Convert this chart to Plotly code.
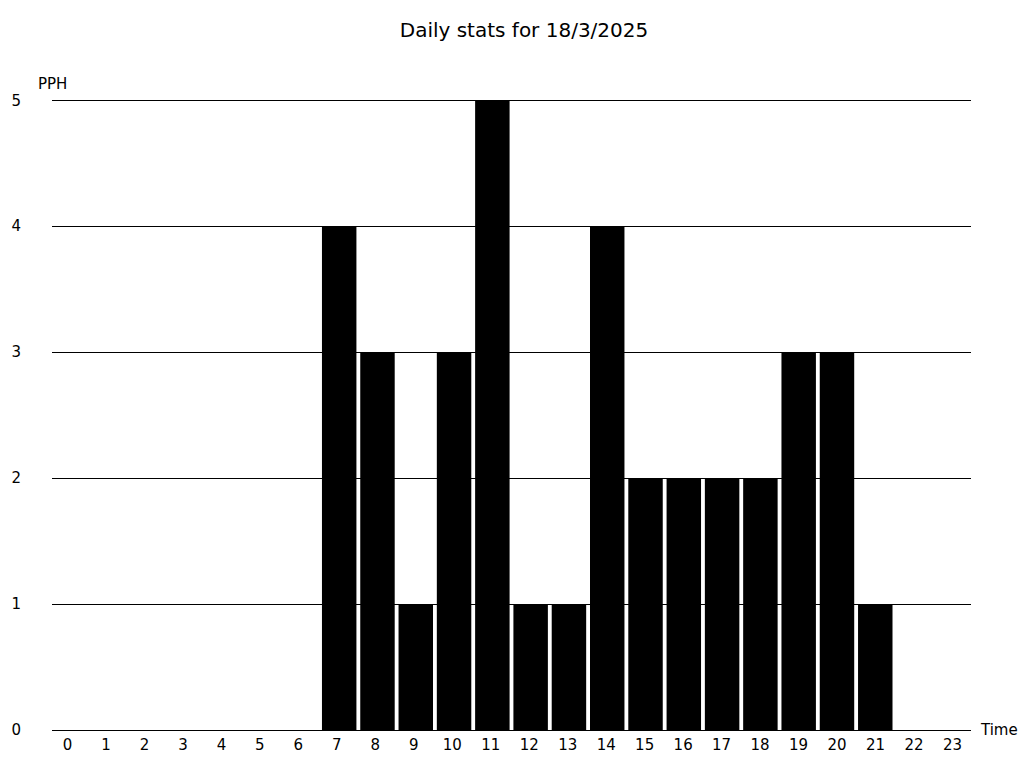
import plotly.graph_objects as go

hours = [str(h) for h in range(24)]
pph = [0, 0, 0, 0, 0, 0, 0, 4, 3, 1, 3, 5, 1, 1, 4, 2, 2, 2, 2, 3, 3, 1, 0, 0]
y_ticks = [0, 1, 2, 3, 4, 5]
hour_positions = list(range(24))
title_text = "Daily stats for 18/3/2025"

fig = go.Figure()
fig.add_trace(go.Bar(x=hour_positions, y=pph, marker=dict(color="black", line=dict(width=0))))
# label axis (slightly different spacing, as in the reference)
fig.add_trace(go.Scatter(x=[], y=[], xaxis="x2", yaxis="y", hoverinfo="skip", showlegend=False))

font = "DejaVu Sans"
y_top = 5.05
fig.update_layout(
    width=1024, height=768,
    paper_bgcolor="white", plot_bgcolor="white",
    margin=dict(l=52, r=53, t=94, b=38, autoexpand=False),
    bargap=0.1,
    showlegend=False,
    font=dict(family=font, size=15, color="black"),
    title=dict(text=title_text, xref="container", x=524 / 1024, xanchor="center",
               y=0.961, yanchor="middle",
               font=dict(family=font, size=20, color="black")),
    xaxis=dict(range=[-0.5, 23.5], showgrid=False, showline=False, zeroline=False,
               ticks="", showticklabels=False, automargin=False),
    xaxis2=dict(overlaying="x", anchor="y", side="bottom", range=[-0.4028, 23.481],
                tickvals=hour_positions, ticktext=hours, showgrid=False, showline=False,
                zeroline=False, ticks="", ticklabelstandoff=4, tickfont=dict(size=15),
                automargin=False),
)
fig.update_yaxes(range=[0, y_top], tickvals=y_ticks, showgrid=True, gridcolor="black", gridwidth=1,
                 zeroline=True, zerolinecolor="black", zerolinewidth=1, showline=False,
                 ticks="", ticklabelstandoff=30, tickfont=dict(size=15), automargin=False)
fig.add_annotation(text="PPH", xref="paper", y=5, yref="y", x=0, xshift=-16, yshift=16,
                   xanchor="left", yanchor="middle", showarrow=False, font=dict(size=15))
fig.add_annotation(text="Time", xref="paper", yref="paper", x=1, y=0, xshift=7,
                   xanchor="left", yanchor="middle", showarrow=False, font=dict(size=15))
fig.write_html("out.html", config={"displayModeBar": False},
               post_script="document.body.style.margin='0';")
